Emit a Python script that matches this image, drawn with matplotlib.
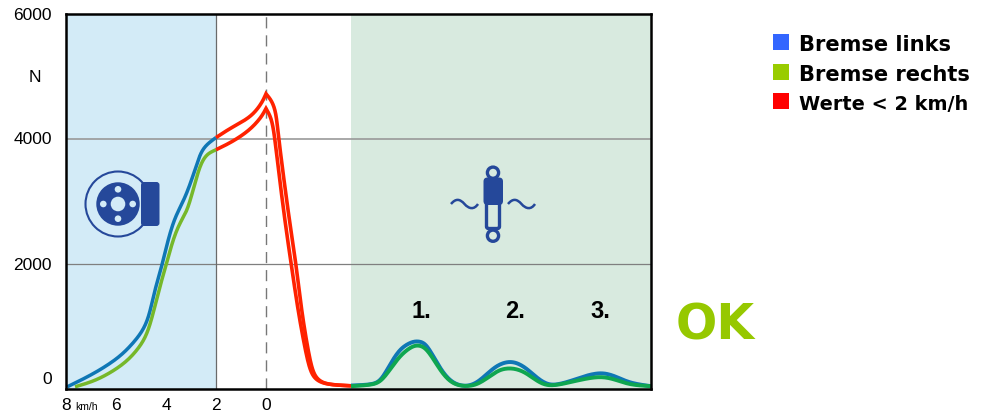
import numpy as np
import matplotlib
matplotlib.use("Agg")
import matplotlib.pyplot as plt
from matplotlib.patches import Circle, FancyBboxPatch, Rectangle, PathPatch
from matplotlib.path import Path
from matplotlib.transforms import offset_copy

# Left part: speed km/h vs force N
links_v = [7.95, 7.17, 6.51, 5.84, 5.31, 4.91, 4.67, 4.44, 4.17, 3.91, 3.64, 3.31, 3.04, 2.77, 2.51, 2.0]
links_n = [27, 181, 331, 517, 731, 944, 1184, 1584, 1957, 2384, 2731, 2997, 3264, 3584, 3851, 4015]
rechts_v = [7.64, 6.91, 6.24, 5.57, 5.04, 4.75, 4.51, 4.24, 3.97, 3.71, 3.44, 3.17, 2.91, 2.64, 2.37, 2.0]
rechts_n = [27, 117, 251, 437, 677, 891, 1211, 1637, 2011, 2384, 2651, 2837, 3184, 3557, 3744, 3820]
# Red part (values below 2 km/h), rising and falling flank of both brakes
red_o_up_v = [2.0, 1.44, 0.91, 0.51, 0.17, 0.0]
red_o_up_n = [4015, 4160, 4277, 4395, 4571, 4715]
red_o_dn_v = [0.0, -0.23, -0.39, -0.49, -0.69, -0.96, -1.2, -1.43, -1.67, -1.89, -2.16, -2.56, -3.4]
red_o_dn_n = [4715, 4597, 4411, 4064, 3424, 2624, 1984, 1237, 651, 251, 117, 64, 43]
red_u_up_v = [2.0, 1.44, 0.91, 0.51, 0.17, 0.0]
red_u_up_n = [3820, 3931, 4064, 4197, 4357, 4480]
red_u_dn_v = [0.0, -0.2, -0.33, -0.49, -0.76, -1.03, -1.29, -1.56, -1.8, -2.09, -2.56, -3.4]
red_u_dn_n = [4480, 4331, 4064, 3531, 2677, 1931, 1237, 651, 251, 117, 64, 43]
# Right part: three test cycles
wave_x = [-3.4, -4.16, -4.56, -4.96, -5.36, -5.76, -6.05, -6.36, -6.69, -7.09, -7.49, -7.96, -8.43,
          -8.96, -9.36, -9.83, -10.29, -10.69, -11.09, -11.49, -12.16, -12.83, -13.43, -13.96, -14.56, -15.4]
wave_links = [48, 64, 117, 384, 624, 731, 757, 720, 517, 251, 91, 37, 91,
              277, 390, 432, 357, 224, 101, 53, 117, 208, 251, 197, 91, 37]
wave_rechts = [37, 59, 107, 304, 517, 651, 693, 651, 475, 229, 80, 37, 64,
               197, 300, 325, 272, 165, 69, 48, 101, 160, 187, 144, 64, 37]

x_ticks = [8, 6, 4, 2, 0]
y_ticks = [0, 2000, 4000, 6000]
legend_labels = ["Bremse links", "Bremse rechts", "Werte < 2 km/h"]
legend_colors = ["#3366ff", "#99cc00", "#ff0000"]
cycle_labels = ["1.", "2.", "3."]


def smooth(x, y, n=12, passes=40):
    """Chord-length Hermite curve through the points read from the picture,
    with light filtering so the reading noise does not show as kinks."""
    p = np.column_stack([x, y]).astype(float)
    q = p * [25.0, 1 / 16.0]  # work in picture scale
    t = np.r_[0, np.cumsum(np.hypot(*np.diff(q, axis=0).T))]
    m = np.zeros_like(p)
    m[1:-1] = (p[2:] - p[:-2]) / (t[2:] - t[:-2])[:, None]
    m[0] = (p[1] - p[0]) / (t[1] - t[0])
    m[-1] = (p[-1] - p[-2]) / (t[-1] - t[-2])
    out = []
    for i in range(len(p) - 1):
        h = t[i + 1] - t[i]
        s = np.linspace(0, 1, n, endpoint=False)[:, None]
        out.append((2 * s**3 - 3 * s**2 + 1) * p[i] + (s**3 - 2 * s**2 + s) * h * m[i]
                   + (-2 * s**3 + 3 * s**2) * p[i + 1] + (s**3 - s**2) * h * m[i + 1])
    out.append(p[-1][None, :])
    out = np.vstack(out)
    for _ in range(passes):
        out[1:-1] = 0.25 * out[:-2] + 0.5 * out[1:-1] + 0.25 * out[2:]
    return out[:, 0], out[:, 1]


def joined(a, b):
    ax_, ay_ = smooth(*a)
    bx_, by_ = smooth(*b)
    return np.r_[ax_, bx_[1:]], np.r_[ay_, by_[1:]]


W, H = 981, 416
fig = plt.figure(figsize=(W / 100, H / 100), dpi=100, facecolor="white")
ax = fig.add_axes([66 / W, 1 - 388.5 / H, 585 / W, 375 / H])
ax.set_xlim(8, -15.4)
ax.set_ylim(0, 6000)

ax.axvspan(8, 2, color="#d3ebf7", lw=0, zorder=0)
ax.axvspan(-3.4, -15.4, color="#d8eadf", lw=0, zorder=0)
ax.axhline(4000, color="#999999", lw=1.2, zorder=1)
ax.axhline(2000, color="#7f7f7f", lw=0.9, zorder=1)
ax.axvline(2, color="#6a6a6a", lw=0.9, zorder=1)
ax.axvline(0, color="#777777", lw=1, dashes=(8, 5), zorder=1)

style = dict(solid_capstyle="butt", solid_joinstyle="miter", zorder=3)
ax.plot(*smooth(links_v, links_n), color="#0f77b5", lw=2.5, **style)
ax.plot(*smooth(rechts_v, rechts_n), color="#76b82a", lw=2.5, **style)
ax.plot(*joined((red_o_up_v, red_o_up_n), (red_o_dn_v, red_o_dn_n)), color="#ff2200", lw=2.6, **style)
ax.plot(*joined((red_u_up_v, red_u_up_n), (red_u_dn_v, red_u_dn_n)), color="#ff2200", lw=2.6, **style)
ax.plot(*smooth(wave_x, wave_links), color="#0f77b5", lw=2.8, **style)
ax.plot(*smooth(wave_x, wave_rechts), color="#0fa650", lw=2.8, **style)

for s in ax.spines.values():
    s.set_linewidth(1.8)
    s.set_color("black")
    s.set_zorder(5)

sans = "Liberation Sans"
ax.set_xticks(x_ticks, [str(v) for v in x_ticks], fontfamily=sans, fontsize=12.5)
ax.set_yticks(y_ticks, [str(v) for v in y_ticks], fontfamily=sans, fontsize=12.5)
ax.tick_params(axis="both", length=0)
ax.tick_params(axis="x", pad=7)
ax.tick_params(axis="y", pad=10)
for lab in ax.get_yticklabels():
    if lab.get_text() == "0":
        lab.set_transform(offset_copy(lab.get_transform(), fig=fig, x=0, y=10, units="dots"))

# Overlay in pixel coordinates for icons and annotations
ov = fig.add_axes([0, 0, 1, 1], facecolor="none")
ov.set_xlim(0, W)
ov.set_ylim(H, 0)
ov.axis("off")

ov.text(35, 77, "N", ha="center", va="center", family=sans, fontsize=12.5)
ov.text(87, 406.5, "km/h", ha="center", va="center", family=sans, fontsize=7.5)

for (label, px) in zip(cycle_labels, [421, 515, 600]):
    ov.text(px, 312, label, ha="center", va="center", family=sans, weight="bold",
            fontsize=17, color="black")

ov.text(676, 325, "OK", ha="left", va="center", family="DejaVu Sans", weight="bold",
        fontsize=35, color="#96c800")

ys = [34, 64, 93]
tys = [45, 75, 105]
sizes = [15.1, 15.1, 13.9]
for label, col, y, ty, fs in zip(legend_labels, legend_colors, ys, tys, sizes):
    ov.add_patch(Rectangle((773, y), 16, 16, facecolor=col, edgecolor="none"))
    ov.text(799, ty, label, ha="left", va="center", family="DejaVu Sans", weight="bold",
            fontsize=fs, color="black")

navy = "#25489a"
blue_bg = "#d3ebf7"
green_bg = "#d8eadf"
# brake disc icon
ov.add_patch(Circle((118, 204), 32.5, fc="none", ec=navy, lw=1.5))
ov.add_patch(Circle((118, 204), 21.7, fc=navy, ec="none"))
ov.add_patch(Circle((118, 204), 7.3, fc=blue_bg, ec="none"))
for dx, dy in [(0, -14.7), (0, 14.7), (-14.7, 0), (14.7, 0)]:
    ov.add_patch(Circle((118 + dx, 204 + dy), 3.3, fc=blue_bg, ec="none"))
ov.add_patch(FancyBboxPatch((144, 185), 12.5, 38, boxstyle="round,pad=3,rounding_size=3", fc=navy, ec="none"))
# shock absorber icon
ov.add_patch(Circle((493, 172.7), 5.6, fc=green_bg, ec=navy, lw=2.4))
ov.add_patch(Circle((493, 235.7), 5.6, fc=green_bg, ec=navy, lw=2.4))
ov.add_patch(FancyBboxPatch((487, 197), 12, 31, boxstyle="round,pad=0.5,rounding_size=2", fc=green_bg, ec=navy, lw=2.4))
ov.add_patch(FancyBboxPatch((486.5, 180.5), 13.5, 21.5, boxstyle="round,pad=3,rounding_size=4", fc=navy, ec="none"))
for x0 in (451, 508):
    verts = [(x0, 204), (x0 + 5, 198), (x0 + 9, 199), (x0 + 13.5, 204),
             (x0 + 18, 209), (x0 + 23, 210), (x0 + 27, 204)]
    codes = [Path.MOVETO] + [Path.CURVE4] * 6
    ov.add_patch(PathPatch(Path(verts, codes), fc="none", ec=navy, lw=1.8))

fig.savefig("out.png", dpi=100)
